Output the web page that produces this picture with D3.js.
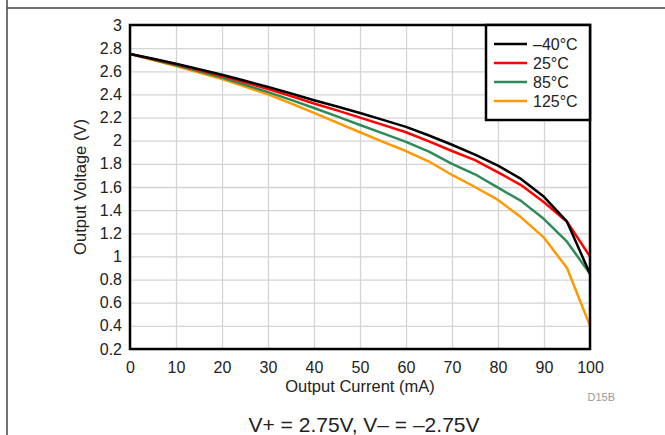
<!DOCTYPE html>
<html>
<head>
<meta charset="utf-8">
<script src="https://cdn.jsdelivr.net/npm/d3@7"></script>
<style>
  html, body { margin: 0; padding: 0; background: #fff; }
  svg { display: block; font-family: "Liberation Sans", Arial, sans-serif; }
</style>
</head>
<body>
<svg id="chart" width="665" height="435"></svg>
<script>
// ---- data ----
const currents = [0, 5, 10, 15, 20, 25, 30, 35, 40, 45, 50, 55, 60, 65, 70, 75, 80, 85, 90, 95, 100];
const vM40  = [2.75, 2.708, 2.665, 2.618, 2.57, 2.518, 2.465, 2.408, 2.35, 2.295, 2.24, 2.18, 2.12, 2.045, 1.965, 1.88, 1.785, 1.67, 1.515, 1.30, 0.85];
const v25   = [2.75, 2.706, 2.66, 2.61, 2.56, 2.505, 2.447, 2.385, 2.322, 2.262, 2.2, 2.137, 2.073, 1.995, 1.911, 1.833, 1.727, 1.617, 1.468, 1.30, 1.00];
const v85   = [2.75, 2.702, 2.652, 2.60, 2.545, 2.484, 2.42, 2.353, 2.283, 2.21, 2.136, 2.064, 1.99, 1.905, 1.80, 1.71, 1.594, 1.48, 1.323, 1.127, 0.85];
const v125  = [2.75, 2.698, 2.645, 2.59, 2.532, 2.468, 2.40, 2.323, 2.24, 2.157, 2.073, 1.99, 1.911, 1.82, 1.704, 1.60, 1.488, 1.338, 1.162, 0.90, 0.40];
const seriesNames = ["\u201340\u00B0C", "25\u00B0C", "85\u00B0C", "125\u00B0C"];
const seriesColors = ["#000000", "#ff0000", "#2e8b57", "#ff9900"];
const xTicks = [0, 10, 20, 30, 40, 50, 60, 70, 80, 90, 100];
const yTicks = [0.2, 0.4, 0.6, 0.8, 1, 1.2, 1.4, 1.6, 1.8, 2, 2.2, 2.4, 2.6, 2.8, 3];
const xTitle = "Output Current (mA)";
const yTitle = "Output Voltage (V)";
const caption = "V+ = 2.75V, V\u2013 = \u20132.75V";
const figId = "D15B";

const seriesValues = [vM40, v25, v85, v125];

// ---- layout ----
const svg = d3.select("#chart");
const L = 130, R = 590, T = 25, B = 349;
const x = d3.scaleLinear().domain([0, 100]).range([L, R]);
const y = d3.scaleLinear().domain([0.2, 3]).range([B, T]);
const textColor = "#222";

// outer frame lines
svg.append("line").attr("x1", 7).attr("x2", 7).attr("y1", 0).attr("y2", 435)
  .attr("stroke", "#444").attr("stroke-width", 1.5);
svg.append("line").attr("x1", 7).attr("x2", 665).attr("y1", 8).attr("y2", 8)
  .attr("stroke", "#444").attr("stroke-width", 1.5);

// gridlines
const gx = svg.append("g").attr("transform", `translate(0,${B})`)
  .call(d3.axisBottom(x).tickValues(xTicks).tickSize(-(B - T)).tickFormat(""));
gx.select(".domain").remove();
gx.selectAll("line").attr("stroke", "#d4d4d4").attr("stroke-width", 1.3);

const gy = svg.append("g").attr("transform", `translate(${L},0)`)
  .call(d3.axisLeft(y).tickValues(yTicks).tickSize(-(R - L)).tickFormat(""));
gy.select(".domain").remove();
gy.selectAll("line").attr("stroke", "#d4d4d4").attr("stroke-width", 1.3);

// tick labels
const ax = svg.append("g").attr("transform", `translate(0,${B})`)
  .call(d3.axisBottom(x).tickValues(xTicks).tickSize(0).tickPadding(13).tickFormat(d3.format("d")));
ax.select(".domain").remove();
ax.selectAll("text").attr("font-size", 16).attr("fill", textColor)
  .attr("font-family", "Liberation Sans, Arial, sans-serif");

const ay = svg.append("g").attr("transform", `translate(${L},0)`)
  .call(d3.axisLeft(y).tickValues(yTicks).tickSize(0).tickPadding(8).tickFormat(d => d3.format("~g")(+d.toFixed(1))));
ay.select(".domain").remove();
ay.selectAll("text").attr("font-size", 16).attr("fill", textColor)
  .attr("font-family", "Liberation Sans, Arial, sans-serif");

// curves
svg.append("clipPath").attr("id", "plotclip")
  .append("rect").attr("x", L).attr("y", T).attr("width", R - L).attr("height", B - T);

const line = d3.line().x((d, i) => x(currents[i])).y(d => y(d));
const curves = svg.append("g").attr("clip-path", "url(#plotclip)");
for (let s = seriesValues.length - 1; s >= 0; s--) {
  curves.append("path").datum(seriesValues[s])
    .attr("d", line)
    .attr("fill", "none")
    .attr("stroke", seriesColors[s])
    .attr("stroke-width", 2.5)
    .attr("stroke-linejoin", "round");
}

// plot frame
svg.append("rect").attr("x", L).attr("y", T).attr("width", R - L).attr("height", B - T)
  .attr("fill", "none").attr("stroke", "#000").attr("stroke-width", 2.5);

// legend
const lg = svg.append("g");
lg.append("rect").attr("x", 486).attr("y", T).attr("width", R - 486).attr("height", 95)
  .attr("fill", "#fff").attr("stroke", "#000").attr("stroke-width", 2.5);
seriesNames.forEach((name, i) => {
  const cy = 44 + i * 19;
  lg.append("line").attr("x1", 494).attr("x2", 527).attr("y1", cy).attr("y2", cy)
    .attr("stroke", seriesColors[i]).attr("stroke-width", 2.5);
  lg.append("text").attr("x", 533).attr("y", cy).attr("dy", "0.36em")
    .attr("font-size", 16).attr("fill", textColor).text(name);
});

// axis titles
svg.append("text").attr("x", (L + R) / 2).attr("y", 392).attr("text-anchor", "middle")
  .attr("font-size", 16.5).attr("fill", textColor).text(xTitle);
svg.append("text").attr("transform", `translate(86,${(T + B) / 2}) rotate(-90)`)
  .attr("text-anchor", "middle").attr("font-size", 16.5).attr("fill", textColor).text(yTitle);

// figure id
svg.append("text").attr("x", 615).attr("y", 401).attr("text-anchor", "end")
  .attr("font-size", 11).attr("fill", "#999").text(figId);

// caption
svg.append("text").attr("x", 364).attr("y", 432).attr("text-anchor", "middle")
  .attr("font-size", 21).attr("fill", textColor).text(caption);
</script>
</body>
</html>
